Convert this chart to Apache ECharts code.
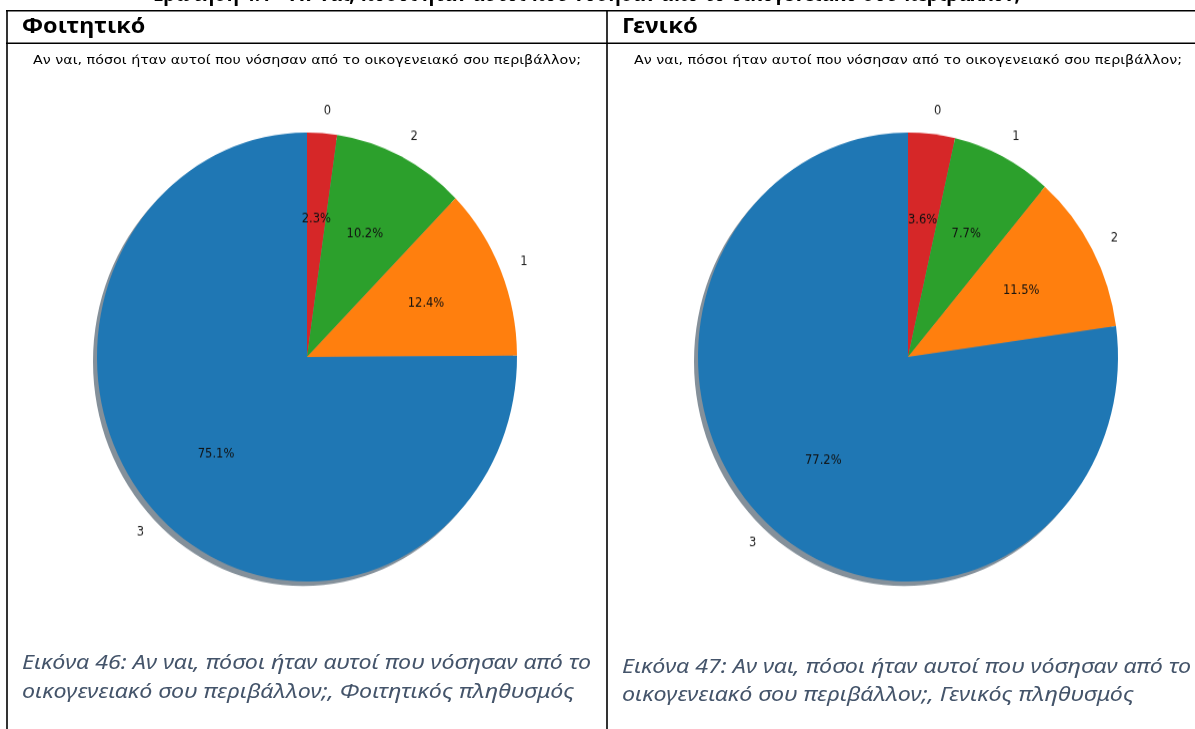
<!DOCTYPE html>
<html>
<head>
<meta charset="utf-8">
<script src="https://cdn.jsdelivr.net/npm/echarts@6/dist/echarts.min.js"></script>
<style>
    html, body { margin: 0; padding: 0; background: #fff; overflow: hidden; }
    #page { position: absolute; left: 0; top: 0; width: 1195px; height: 729px; }
    .pie { position: absolute; top: 97px; width: 600px; height: 520px;
           transform: scaleY(1.069); transform-origin: 50% 50%; }
    #pieLeft { left: 7px; }
    #pieRight { left: 608px; }
</style>
</head>
<body>
<div id="page"></div>
<div id="pieLeft" class="pie"></div>
<div id="pieRight" class="pie"></div>
<script>
// data (slice order = clockwise from 12 o'clock)
var studentNames = ['0', '2', '1', '3'];
var studentValues = [2.3, 10.2, 12.4, 75.1];
var generalNames = ['0', '1', '2', '3'];
var generalValues = [3.6, 7.7, 11.5, 77.2];
var sliceColors = ['#d62728', '#2ca02c', '#ff7f0e', '#1f77b4'];

var question = 'Αν ναι, πόσοι ήταν αυτοί που νόσησαν από το οικογενειακό σου περιβάλλον;';
var headers = ['Φοιτητικό', 'Γενικό'];
var captionsLine1 = ['Εικόνα 46: Αν ναι, πόσοι ήταν αυτοί που νόσησαν από το',
                     'Εικόνα 47: Αν ναι, πόσοι ήταν αυτοί που νόσησαν από το'];
var captionsLine2 = ['οικογενειακό σου περιβάλλον;, Φοιτητικός πληθυσμός',
                     'οικογενειακό σου περιβάλλον;, Γενικός πληθυσμός'];

// the page: table lines and texts
var pageChart = echarts.init(document.getElementById('page'));

function line(x1, y1, x2, y2) {
    return { type: 'line', shape: { x1: x1, y1: y1, x2: x2, y2: y2 },
             style: { stroke: '#000', lineWidth: 1.6 } };
}
// sx: horizontal stretch, the document fonts run wider than the ones we have
function text(x, y, str, font, color, align, sx) {
    return { type: 'text', x: x, y: y, scaleX: sx || 1,
             style: { text: str, font: font, fill: color, align: align || 'left', verticalAlign: 'middle' } };
}

var titleFont = '13px "DejaVu Sans"';
var headFont = 'bold 21px "Noto Sans"';
var capFont = 'italic 20.5px "Noto Sans"';
var capColor = '#44546a';

pageChart.setOption({
    animation: false,
    graphic: [
        // clipped heading above the table
        text(1020, -4, 'Ερώτηση 4.1 – ' + question, 'bold 19px "Noto Sans"', '#000', 'right'),
        line(6, 10.8, 1195, 10.8),
        line(6, 43.2, 1195, 43.2),
        line(7, 10, 7, 729),
        line(607, 10, 607, 729),
        text(22, 27, headers[0], headFont, '#000', 'left', 1.11),
        text(622, 27, headers[1], headFont, '#000', 'left', 1.14),
        text(307, 61, question, titleFont, '#000', 'center', 1.1),
        text(908, 61, question, titleFont, '#000', 'center', 1.1),
        text(22, 663, captionsLine1[0], capFont, capColor, 'left', 1.135),
        text(22, 692, captionsLine2[0], capFont, capColor, 'left', 1.135),
        text(622, 667, captionsLine1[1], capFont, capColor, 'left', 1.135),
        text(622, 695, captionsLine2[1], capFont, capColor, 'left', 1.135)
    ]
});

// one pie: shadow disc, coloured slices with names, and percentage labels
function pieOption(names, values) {
    var data = [];
    var pct = [];
    var total = 0;
    for (var i = 0; i < values.length; i++) {
        data.push({ name: names[i], value: values[i], itemStyle: { color: sliceColors[i] } });
        pct.push({ name: names[i], value: values[i] });
        total += values[i];
    }
    var R = 210;
    return {
        animation: false,
        series: [
            {
                // matplotlib style shadow
                type: 'pie', silent: true, z: 1,
                center: [296, 264.2], radius: [0, R],
                label: { show: false }, labelLine: { show: false },
                data: [{ value: total, itemStyle: { color: '#84909a' } }]
            },
            {
                type: 'pie', z: 2,
                center: ['50%', '50%'], radius: [0, R],
                startAngle: 90, clockwise: true,
                avoidLabelOverlap: false,
                itemStyle: { borderWidth: 0 },
                label: {
                    show: true, position: 'outside', formatter: '{b}',
                    color: '#222', fontFamily: 'DejaVu Sans', fontSize: 11.5,
                    distanceToLabelLine: 0
                },
                labelLine: { show: false, length: 21, length2: 0 },
                data: data
            },
            {
                type: 'pie', z: 3, silent: true,
                center: ['50%', '50%'], radius: [R * 0.2, R],
                startAngle: 90, clockwise: true,
                itemStyle: { color: 'rgba(0,0,0,0)', borderWidth: 0 },
                label: {
                    show: true, position: 'inside',
                    formatter: function (p) { return p.value.toFixed(1) + '%'; },
                    color: '#111', fontFamily: 'DejaVu Sans', fontSize: 11.5
                },
                labelLine: { show: false },
                data: pct
            }
        ]
    };
}

var leftChart = echarts.init(document.getElementById('pieLeft'));
leftChart.setOption(pieOption(studentNames, studentValues));

var rightChart = echarts.init(document.getElementById('pieRight'));
rightChart.setOption(pieOption(generalNames, generalValues));
</script>
</body>
</html>
